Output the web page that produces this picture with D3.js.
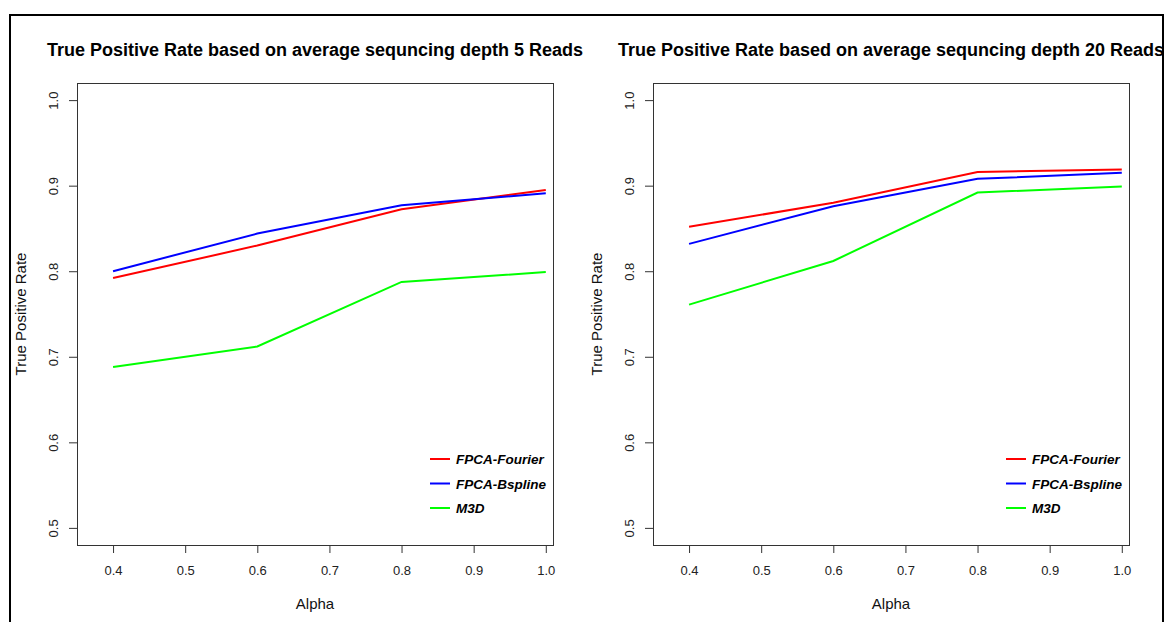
<!DOCTYPE html>
<html>
<head>
<meta charset="utf-8">
<script src="https://cdn.jsdelivr.net/npm/d3@7"></script>
<style>
  html, body { margin: 0; padding: 0; background: #fff; }
  svg { display: block; font-family: "Liberation Sans", Arial, sans-serif; }
</style>
</head>
<body>
<svg id="chart" width="1165" height="622"></svg>
<script>
// Detection rate of three methods across alpha, at two sequencing depths
const alphas = [0.4, 0.6, 0.8, 1.0];
const xTicks = [0.4, 0.5, 0.6, 0.7, 0.8, 0.9, 1.0];
const yTicks = [0.5, 0.6, 0.7, 0.8, 0.9, 1.0];
const methods = ["FPCA-Fourier", "FPCA-Bspline", "M3D"];
const colors = ["#ff0000", "#0000ff", "#00ff00"];

const depth5Fourier = [0.792, 0.830, 0.8725, 0.895];
const depth5Bspline = [0.800, 0.844, 0.877, 0.891];
const depth5M3D     = [0.688, 0.712, 0.7875, 0.799];

const depth20Fourier = [0.852, 0.880, 0.916, 0.919];
const depth20Bspline = [0.832, 0.876, 0.908, 0.915];
const depth20M3D     = [0.761, 0.812, 0.892, 0.899];

const titles = [
  "True Positive Rate based on average sequncing depth 5 Reads",
  "True Positive Rate based on average sequncing depth 20 Reads"
];
const panelSeries = [
  [depth5Fourier, depth5Bspline, depth5M3D],
  [depth20Fourier, depth20Bspline, depth20M3D]
];

const svg = d3.select("#chart");
const panelLeft = [77, 653];
const plotW = 476, plotTop = 83, plotBottom = 545;

panelSeries.forEach((series, p) => {
  const x0 = panelLeft[p];
  const x = d3.scaleLinear().domain([0.35, 1.01]).range([x0, x0 + plotW]);
  const y = d3.scaleLinear().domain([0.48, 1.02]).range([plotBottom, plotTop]);
  const g = svg.append("g");

  // x axis
  const xa = g.append("g")
    .attr("transform", `translate(0,${plotBottom})`)
    .call(d3.axisBottom(x).tickValues(xTicks).tickFormat(d3.format(".1f"))
      .tickSize(8).tickPadding(13));
  xa.select(".domain").remove();
  xa.selectAll("line").attr("stroke", "#333");
  xa.selectAll("text").attr("font-size", 13).attr("fill", "#222")
    .attr("font-family", "Liberation Sans, Arial, sans-serif");

  // y axis, labels rotated parallel to the axis
  const ya = g.append("g")
    .attr("transform", `translate(${x0},0)`)
    .call(d3.axisLeft(y).tickValues(yTicks).tickFormat(d3.format(".1f")).tickSize(8));
  ya.select(".domain").remove();
  ya.selectAll("line").attr("stroke", "#333");
  ya.selectAll("text")
    .attr("x", null).attr("dy", "0.35em")
    .attr("text-anchor", "middle")
    .attr("transform", "translate(-24,0) rotate(-90)")
    .attr("font-size", 13).attr("fill", "#222")
    .attr("font-family", "Liberation Sans, Arial, sans-serif");

  // series lines
  const line = d3.line().x((d, i) => x(alphas[i])).y(d => y(d));
  series.forEach((vals, k) => {
    g.append("path").datum(vals)
      .attr("d", line)
      .attr("fill", "none")
      .attr("stroke", colors[k])
      .attr("stroke-width", 2);
  });

  // plot box
  g.append("rect")
    .attr("x", x0 + 0.5).attr("y", plotTop + 0.5)
    .attr("width", plotW).attr("height", plotBottom - plotTop)
    .attr("fill", "none").attr("stroke", "#333").attr("stroke-width", 1);

  // title
  g.append("text")
    .attr("x", x0 + plotW / 2).attr("y", 56)
    .attr("text-anchor", "middle")
    .attr("font-size", 18).attr("font-weight", "bold").attr("fill", "#000")
    .text(titles[p]);

  // axis titles
  g.append("text")
    .attr("x", x0 + plotW / 2).attr("y", 609)
    .attr("text-anchor", "middle").attr("font-size", 15).attr("fill", "#111")
    .text("Alpha");
  g.append("text")
    .attr("transform", `translate(${x0 - 51},${(plotTop + plotBottom) / 2}) rotate(-90)`)
    .attr("text-anchor", "middle").attr("font-size", 15).attr("fill", "#111")
    .text("True Positive Rate");

  // legend
  const lx = x0 + plotW - 123;
  methods.forEach((m, k) => {
    const ly = 459 + k * 24.5;
    g.append("line")
      .attr("x1", lx).attr("x2", lx + 20)
      .attr("y1", ly).attr("y2", ly)
      .attr("stroke", colors[k]).attr("stroke-width", 2);
    g.append("text")
      .attr("x", lx + 26).attr("y", ly + 5)
      .attr("font-size", 13.5).attr("font-weight", "bold").attr("font-style", "italic")
      .attr("fill", "#000")
      .text(m);
  });
});

// outer frame
svg.append("rect")
  .attr("x", 10).attr("y", 15)
  .attr("width", 1153).attr("height", 700)
  .attr("fill", "none").attr("stroke", "#000").attr("stroke-width", 2);
</script>
</body>
</html>
